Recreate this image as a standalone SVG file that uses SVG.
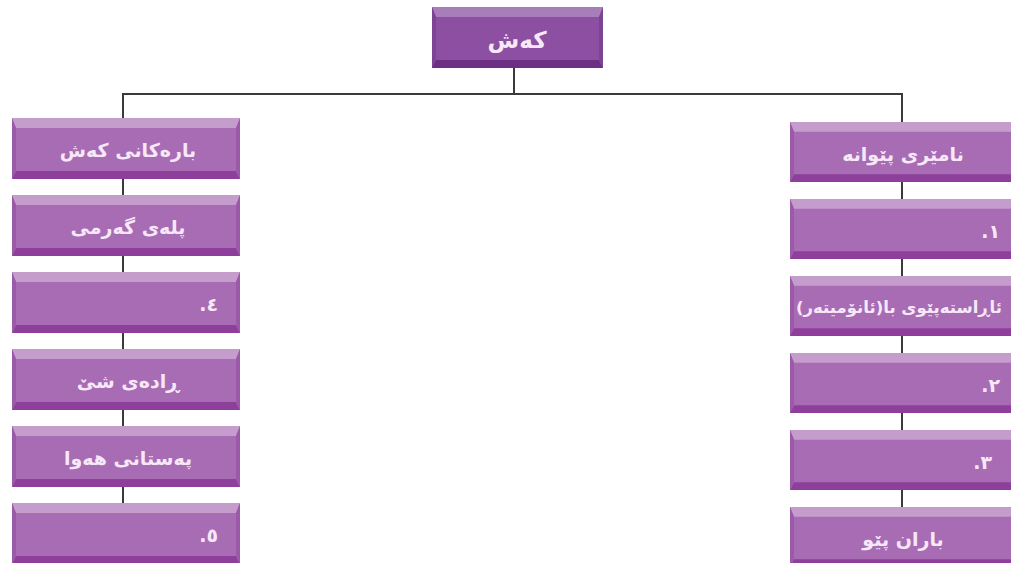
<svg xmlns="http://www.w3.org/2000/svg" width="1011" height="563" viewBox="0 0 1011 563">
<defs>
<style>
.main{fill:#A86CB5}
.top{fill:#C59DCD}
.bot{fill:#8E3F9C}
.side{fill:#9A5AA8}
.rmain{fill:#8C4FA1}
.rtop{fill:#A87EBA}
.rbot{fill:#6C2F84}
.rside{fill:#7D4494}
.lbl{font-family:"DejaVu Sans","Noto Sans",sans-serif;font-weight:bold;font-size:19px;fill:#F6E8F7;text-anchor:middle;dominant-baseline:central;direction:rtl}
.num{text-anchor:start}
.conn{stroke:#3a3a3a;stroke-width:2;fill:none}
</style>
<symbol id="box" viewBox="0 0 228 61" preserveAspectRatio="none">
<rect class="main" x="0" y="0" width="228" height="61"/>
<polygon class="top" points="0,0 228,0 224,10 4,10"/>
<polygon class="bot" points="0,61 228,61 224,53 4,53"/>
<polygon class="side" points="0,0 4,10 4,53 0,61"/>
<polygon class="side" points="228,0 224,10 224,53 228,61"/>
</symbol>
</defs>
<rect width="1011" height="563" fill="#FFFFFF"/>
<g id="connectors">
<path class="conn" d="M514,68 V94 M123,94 H902 M123,93 V118 M902,93 V122"/>
<path class="conn" d="M123,179 V195 M123,256 V272 M123,333 V349 M123,410 V426 M123,487 V503"/>
<path class="conn" d="M902,182 V199 M902,259 V276 M902,336 V353 M902,413 V430 M902,490 V507"/>
</g>
<g id="root">
<rect class="rmain" x="432" y="7" width="171" height="61"/>
<polygon class="rtop" points="432,7 603,7 599,17 436,17"/>
<polygon class="rbot" points="432,68 603,68 599,60 436,60"/>
<polygon class="rside" points="432,7 436,17 436,60 432,68"/>
<polygon class="rside" points="603,7 599,17 599,60 603,68"/>
<text class="lbl" x="517" y="40" style="font-size:23px">کەش</text>
</g>
<g id="l1"><use href="#box" x="12" y="118" width="228" height="61"/><text class="lbl" x="128" y="150">بارەکانی کەش</text></g>
<g id="l2"><use href="#box" x="12" y="195" width="228" height="61"/><text class="lbl" x="128" y="227">پلەی گەرمی</text></g>
<g id="l3"><use href="#box" x="12" y="272" width="228" height="61"/><text class="lbl num" x="218" y="304">٤.</text></g>
<g id="l4"><use href="#box" x="12" y="349" width="228" height="61"/><text class="lbl" x="128" y="381">ڕادەی شێ</text></g>
<g id="l5"><use href="#box" x="12" y="426" width="228" height="61"/><text class="lbl" x="128" y="458">پەستانی هەوا</text></g>
<g id="l6"><use href="#box" x="12" y="503" width="228" height="61"/><text class="lbl num" x="218" y="535">٥.</text></g>
<g id="r1"><use href="#box" x="790" y="122" width="228" height="60"/><text class="lbl" x="903" y="154">نامێری پێوانە</text></g>
<g id="r2"><use href="#box" x="790" y="199" width="228" height="60"/><text class="lbl num" x="1000" y="231">١.</text></g>
<g id="r3"><use href="#box" x="790" y="276" width="228" height="60"/><text class="lbl" x="899" y="307" style="font-size:16.5px">ئاڕاستەپێوی با(ئانۆمیتەر)</text></g>
<g id="r4"><use href="#box" x="790" y="353" width="228" height="60"/><text class="lbl num" x="1000" y="385">٢.</text></g>
<g id="r5"><use href="#box" x="790" y="430" width="228" height="60"/><text class="lbl num" x="992" y="462">٣.</text></g>
<g id="r6"><use href="#box" x="790" y="507" width="228" height="60"/><text class="lbl" x="903" y="539">باران پێو</text></g>
</svg>
